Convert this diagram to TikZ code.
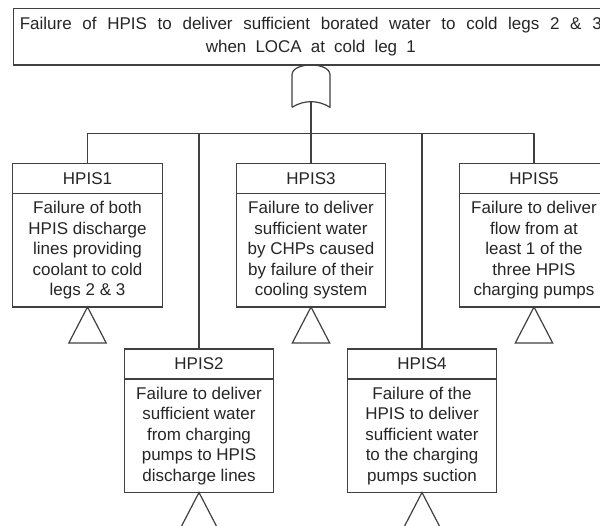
\documentclass[tikz,border=0pt]{standalone}
\usepackage{fontspec}
\setmainfont{Liberation Sans}
\usetikzlibrary{positioning}

\begin{document}
\begin{tikzpicture}[x=1pt,y=1pt,
  evthead/.style={draw=drawColor,line width=1.2pt,text=textColor,minimum width=149.3pt,minimum height=30pt,inner sep=0pt,outer sep=0pt,font=\fontsize{17}{20.5}\selectfont},
  evtbody/.style={evthead,minimum height=113.5pt,align=center},
  wire/.style={draw=drawColor,line width=1.2pt,line join=round}]
\definecolor{fillColor}{RGB}{255,255,255}
\definecolor{drawColor}{RGB}{64,64,64}
\definecolor{textColor}{RGB}{38,38,38}
\path[use as bounding box,fill=fillColor] (0,0) rectangle (600,526);
\begin{scope}
\path[clip] (0,0) rectangle (600,526);

\node[evthead,minimum width=595pt,minimum height=56.7pt,align=center,font=\fontsize{17}{22.5}\selectfont] (top) at (310.8,489.35) {\makebox[582pt][s]{Failure of HPIS to deliver sufficient borated water to cold legs 2 \& 3}\\\makebox[210pt][s]{when LOCA at cold leg 1}};

\coordinate (gate) at (311,424.3);
\coordinate (bar) at (311,392.7);

\path[wire] (292,418.7) -- (292,451) .. controls (292,458) and (302,461) .. (311,461) .. controls (320,461) and (330,458) .. (330,451) -- (330,418.7) .. controls (318,426.2) and (304,426.2) .. (292,418.7);

\node[evthead] (hpis1) at ( 87.5,347.5) {HPIS1};
\node[evtbody,below=0pt of hpis1] (hpis1txt) {Failure of both\\HPIS discharge\\lines providing\\coolant to cold\\legs 2 \& 3};

\node[evthead] (hpis3) at (311.0,347.5) {HPIS3};
\node[evtbody,below=0pt of hpis3] (hpis3txt) {Failure to deliver\\sufficient water\\by CHPs caused\\by failure of their\\cooling system};

\node[evthead] (hpis5) at (534.0,347.5) {HPIS5};
\node[evtbody,below=0pt of hpis5] (hpis5txt) {Failure to deliver\\flow from at\\least 1 of the\\three HPIS\\charging pumps};

\node[evthead] (hpis2) at (199.0,162.0) {HPIS2};
\node[evtbody,below=0pt of hpis2] (hpis2txt) {Failure to deliver\\sufficient water\\from charging\\pumps to HPIS\\discharge lines};

\node[evthead] (hpis4) at (422.0,162.0) {HPIS4};
\node[evtbody,below=0pt of hpis4] (hpis4txt) {Failure of the\\HPIS to deliver\\sufficient water\\to the charging\\pumps suction};

\path[wire] (gate) -- (bar);

\path[wire] (bar) -| (hpis1.north);

\path[wire] (bar) -| (hpis2.north);

\path[wire] (bar) -- (hpis3.north);

\path[wire] (bar) -| (hpis4.north);

\path[wire] (bar) -| (hpis5.north);

\path[wire,line join=miter] (hpis1txt.south) -- ++(-18.7,-36) -- ++(37.4,0) -- cycle;

\path[wire,line join=miter] (hpis3txt.south) -- ++(-18.7,-36) -- ++(37.4,0) -- cycle;

\path[wire,line join=miter] (hpis5txt.south) -- ++(-18.7,-36) -- ++(37.4,0) -- cycle;

\path[wire,line join=miter] (hpis2txt.south) -- ++(-18.7,-36) -- ++(37.4,0) -- cycle;

\path[wire,line join=miter] (hpis4txt.south) -- ++(-18.7,-36) -- ++(37.4,0) -- cycle;
\end{scope}
\end{tikzpicture}
\end{document}
